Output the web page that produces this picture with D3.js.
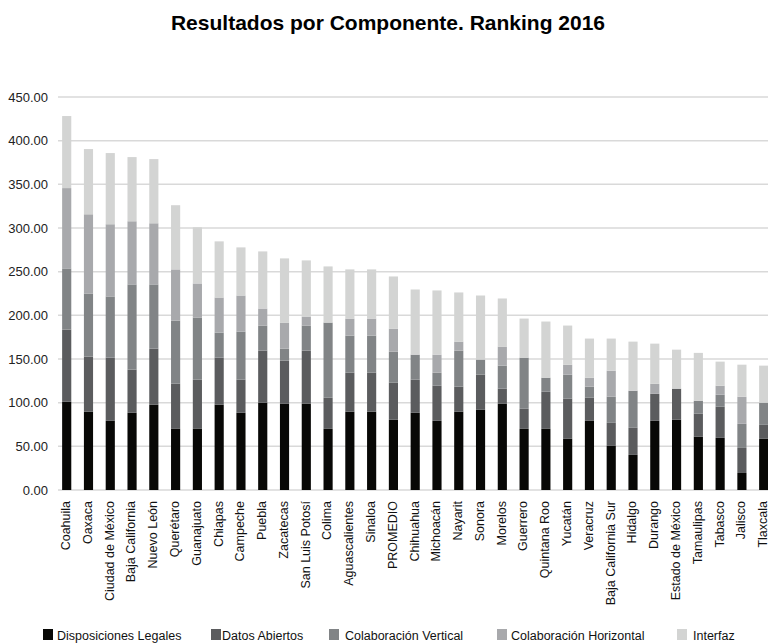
<!DOCTYPE html>
<html>
<head>
<meta charset="utf-8">
<script src="https://cdn.jsdelivr.net/npm/d3@7"></script>
<style>
  body { margin: 0; background: #fff; }
  svg { display: block; font-family: "Liberation Sans", Arial, Helvetica, sans-serif; }
</style>
</head>
<body>
<div id="chart"></div>
<script>
var estados = ["Coahuila","Oaxaca","Ciudad de México","Baja California","Nuevo León","Querétaro","Guanajuato","Chiapas","Campeche","Puebla","Zacatecas","San Luis Potosí","Colima","Aguascalientes","Sinaloa","PROMEDIO","Chihuahua","Michoacán","Nayarit","Sonora","Morelos","Guerrero","Quintana Roo","Yucatán","Veracruz","Baja California Sur","Hidalgo","Durango","Estado de México","Tamaulipas","Tabasco","Jalisco","Tlaxcala"];

var componentes = ["Disposiciones Legales","Datos Abiertos","Colaboración Vertical","Colaboración Horizontal","Interfaz"];

var disposicionesLegales  = [101.0,89.6,79.2,88.4,97.6,70.0,70.0,97.6,88.4,99.9,98.7,98.7,70.0,89.6,89.6,80.4,88.4,79.2,89.6,91.8,98.7,70.0,70.0,58.6,79.2,50.5,40.2,79.2,80.4,60.9,59.7,19.5,58.6];
var datosAbiertos         = [82.7,63.1,72.3,49.4,64.3,51.7,56.3,53.9,37.9,59.7,49.4,60.9,35.6,44.7,44.7,42.4,37.9,40.2,28.7,40.2,17.3,23.0,42.5,45.9,26.4,26.4,31.0,30.9,35.6,26.4,35.6,28.7,16.0];
var colaboracionVertical  = [70.0,72.3,70.1,97.6,73.5,72.3,71.2,28.7,55.1,28.7,13.8,28.7,86.1,42.5,42.5,35.6,28.7,14.9,41.3,17.3,26.4,58.5,16.1,27.5,12.7,29.9,42.5,0,0,14.9,13.8,27.6,25.3];
var colaboracionHorizontal= [92.0,90.7,82.7,72.3,70.0,58.6,39.0,40.2,41.3,19.5,29.8,10.3,0,19.5,19.5,26.4,0,20.7,10.3,0,21.8,0,0,11.5,10.3,29.8,0,11.5,0,0,10.3,31.0,0];
var interfaz              = [82.5,74.7,81.5,73.5,73.5,73.5,64.3,64.3,55.1,65.4,73.5,64.3,64.3,56.3,56.3,59.7,74.6,73.5,56.3,73.4,55.1,44.8,64.3,44.8,44.8,36.8,56.2,46.0,44.7,54.8,27.6,36.7,42.5];

var yTicks = [0,50,100,150,200,250,300,350,400,450];
var colores = ["#080806","#5b5c5e","#818486","#a8a9ac","#d3d4d3"];

var width = 768, height = 643;
var series = [disposicionesLegales, datosAbiertos, colaboracionVertical, colaboracionHorizontal, interfaz];

var data = estados.map(function(e, i) {
  var row = { estado: e };
  componentes.forEach(function(c, k) { row[c] = series[k][i]; });
  return row;
});

var stacked = d3.stack().keys(componentes)(data);

var x = d3.scaleBand()
    .domain(estados)
    .range([49.5, 780.9])
    .padding(0.58);

var y = d3.scaleLinear()
    .domain([0, 450])
    .range([490, 97]);

var color = d3.scaleOrdinal().domain(componentes).range(colores);

var svg = d3.select("#chart").append("svg")
    .attr("width", width)
    .attr("height", height);

svg.append("text")
    .attr("x", 388)
    .attr("y", 30)
    .attr("text-anchor", "middle")
    .style("font-size", "21px")
    .style("font-weight", "bold")
    .attr("fill", "#000")
    .text("Resultados por Componente. Ranking 2016");

// gridlines
svg.append("g").selectAll("line")
    .data(yTicks)
    .enter().append("line")
    .attr("x1", 58)
    .attr("x2", 768)
    .attr("y1", function(d) { return y(d); })
    .attr("y2", function(d) { return y(d); })
    .attr("stroke", "#d9d9d9")
    .attr("stroke-width", 1.5);

var yAxis = svg.append("g")
    .attr("transform", "translate(58,0)")
    .call(d3.axisLeft(y).tickValues(yTicks).tickFormat(d3.format(".2f")).tickSize(0).tickPadding(10));
yAxis.select(".domain").remove();
yAxis.selectAll("text")
    .style("font-size", "13px")
    .attr("fill", "#222")
    .style("font-family", "Liberation Sans, Arial, sans-serif");

svg.append("g").selectAll("g")
    .data(stacked)
    .enter().append("g")
    .attr("fill", function(d) { return color(d.key); })
    .selectAll("rect")
    .data(function(d) { return d; })
    .enter().append("rect")
    .attr("x", function(d) { return x(d.data.estado); })
    .attr("y", function(d) { return y(d[1]); })
    .attr("width", x.bandwidth())
    .attr("height", function(d) { return y(d[0]) - y(d[1]); });

var xAxis = svg.append("g")
    .attr("transform", "translate(0,490)")
    .call(d3.axisBottom(x).tickSize(0).tickPadding(0));
xAxis.select(".domain").remove();
xAxis.selectAll("text")
    .attr("transform", "rotate(-90)")
    .attr("x", -11)
    .attr("y", 0)
    .attr("dy", "0.27em")
    .attr("text-anchor", "end")
    .style("font-size", "12.5px")
    .attr("fill", "#111")
    .style("font-family", "Liberation Sans, Arial, sans-serif");

// legend
var legendX = [43, 211, 329, 497, 677];
var legendGap = [14, 11, 16, 14, 16];
var legend = svg.append("g").selectAll("g")
    .data(componentes)
    .enter().append("g")
    .attr("transform", function(d, i) { return "translate(" + legendX[i] + ",629)"; });
legend.append("rect")
    .attr("width", 10)
    .attr("height", 11)
    .attr("fill", function(d) { return color(d); });
legend.append("text")
    .attr("x", function(d, i) { return legendGap[i]; })
    .attr("y", 10.5)
    .style("font-size", "12.5px")
    .attr("fill", "#111")
    .text(function(d) { return d; });
</script>
</body>
</html>
